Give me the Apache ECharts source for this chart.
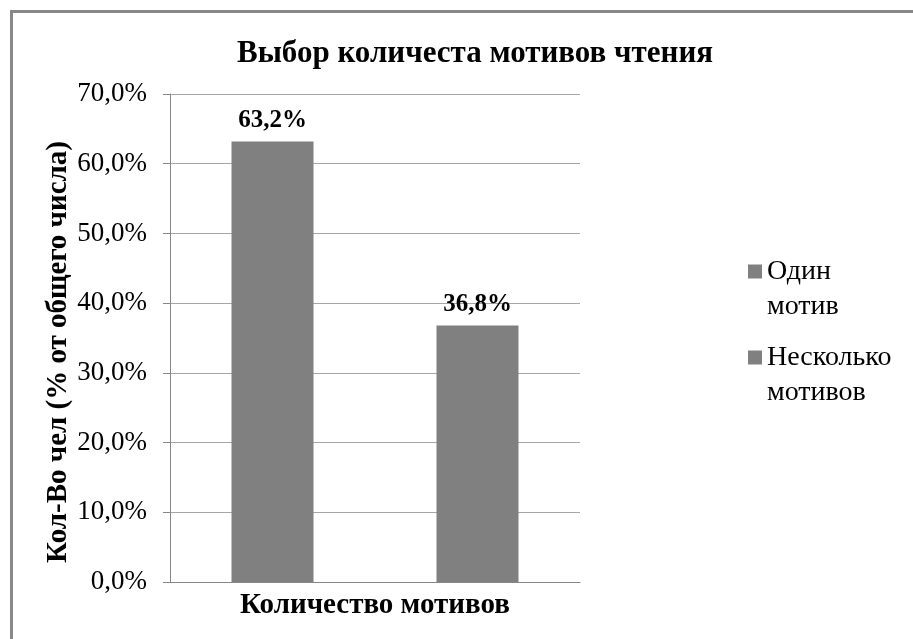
<!DOCTYPE html>
<html>
<head>
<meta charset="utf-8">
<script src="https://cdn.jsdelivr.net/npm/echarts@6/dist/echarts.min.js"></script>
<style>
  html, body { margin: 0; padding: 0; background: #fff; overflow: hidden; }
  #chart { width: 913px; height: 639px; }
</style>
</head>
<body>
<div id="chart"></div>
<script>
const categories = ['Один мотив', 'Несколько мотивов']
const values = [63.2, 36.8]
const yMin = 0
const yMax = 70
const yStep = 10

const serif = '"Liberation Serif", "Times New Roman", serif'
const barColor = '#808080'

function fmtPct(v) {
  return v.toFixed(1).replace('.', ',') + '%'
}

// one series per category so each gets its own legend entry
const series = categories.map((name, i) => ({
  name: name,
  type: 'bar',
  stack: 'one',
  barWidth: '40%',
  data: values.map((v, j) => (j === i ? v : '-')),
  itemStyle: { color: barColor },
  label: {
    show: true,
    position: 'top',
    distance: 8,
    formatter: p => fmtPct(p.value),
    fontFamily: serif,
    fontWeight: 'bold',
    fontSize: 25,
    color: '#000'
  }
}))

const chart = echarts.init(document.getElementById('chart'))

chart.setOption({
  animation: false,
  title: {
    text: 'Выбор количеста мотивов чтения',
    left: 470,
    textAlign: 'center',
    top: 33,
    textStyle: {
      fontFamily: serif,
      fontWeight: 'bold',
      fontSize: 31,
      color: '#000'
    }
  },
  legend: {
    orient: 'vertical',
    left: 743,
    top: 214,
    itemWidth: 14,
    itemHeight: 14,
    itemGap: -19,
    icon: 'rect',
    // empty first line keeps the marker level with the first word
    formatter: n => '\n' + n.replace(' ', '\n'),
    textStyle: {
      fontFamily: serif,
      fontSize: 28,
      lineHeight: 35,
      color: '#000'
    }
  },
  grid: {
    left: 170,
    top: 94,
    right: 333,
    bottom: 57
  },
  xAxis: {
    type: 'category',
    data: categories,
    name: 'Количество мотивов',
    nameLocation: 'middle',
    nameGap: 9,
    nameTextStyle: {
      fontFamily: serif,
      fontWeight: 'bold',
      fontSize: 29,
      color: '#000'
    },
    axisLine: { lineStyle: { color: '#868686', width: 1 } },
    axisTick: { show: false },
    axisLabel: { show: false }
  },
  yAxis: {
    type: 'value',
    min: yMin,
    max: yMax,
    interval: yStep,
    name: 'Кол-Во чел (% от общего числа)',
    nameLocation: 'middle',
    nameGap: 97,
    nameTextStyle: {
      fontFamily: serif,
      fontWeight: 'bold',
      fontSize: 29,
      color: '#000',
      padding: [0, 28, 0, 0]
    },
    axisLine: { show: true, lineStyle: { color: '#868686' } },
    axisTick: { show: true, length: 7, lineStyle: { color: '#868686' } },
    axisLabel: {
      margin: 23,
      formatter: v => fmtPct(v),
      fontFamily: serif,
      fontSize: 27,
      color: '#000'
    },
    splitLine: { lineStyle: { color: '#a6a6a6' } }
  },
  graphic: [
    {
      type: 'polyline',
      shape: { points: [[11.5, 800], [11.5, 11.5], [1200, 11.5]] },
      style: { fill: 'none', stroke: '#888', lineWidth: 3 },
      silent: true
    }
  ],
  series: series
})
</script>
</body>
</html>
